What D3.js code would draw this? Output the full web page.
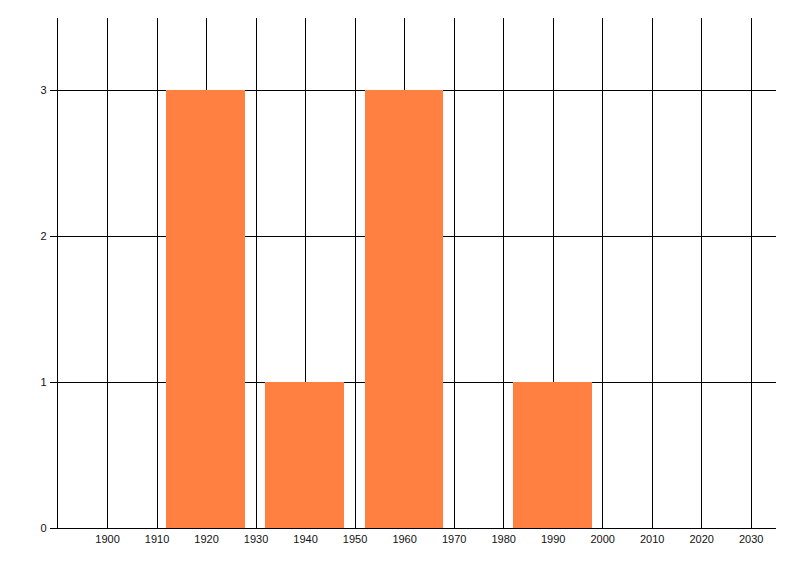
<!DOCTYPE html>
<html><head><meta charset="utf-8">
<script src="https://cdn.jsdelivr.net/npm/d3@7"></script>
<style>body{margin:0;background:#fff}svg{display:block}</style>
</head><body>
<script>
const years = [1920, 1940, 1960, 1990];
const counts = [3, 1, 3, 1];
const binWidth = 16;
const xTicks = [1900,1910,1920,1930,1940,1950,1960,1970,1980,1990,2000,2010,2020,2030];
const yTicks = [0,1,2,3];

const W = 800, H = 576;
const svg = d3.select("body").append("svg").attr("width", W).attr("height", H);
const x = d3.scaleLinear().domain([1890, 2035]).range([57.5, 775.5]);
const y = d3.scaleLinear().domain([0, 3.5]).range([528.5, 17.5]);
const font = "'Liberation Sans', Arial, sans-serif";
const py = v => Math.floor(y(v));

// vertical grid
svg.append("g").selectAll("line").data(xTicks).join("line")
  .attr("x1", d => Math.round(x(d)) + 0.5).attr("x2", d => Math.round(x(d)) + 0.5)
  .attr("y1", y(3.5)).attr("y2", py(0))
  .attr("stroke", "#000").attr("stroke-width", 1).attr("shape-rendering", "crispEdges");
// horizontal grid
svg.append("g").selectAll("line").data(yTicks.filter(d => d > 0)).join("line")
  .attr("x1", x(1890)).attr("x2", x(2035))
  .attr("y1", d => py(d) + 0.5).attr("y2", d => py(d) + 0.5)
  .attr("stroke", "#000").attr("shape-rendering", "crispEdges");

// bars
svg.append("g").selectAll("rect").data(years.map((yr, i) => ({yr, c: counts[i]}))).join("rect")
  .attr("x", d => Math.round(x(d.yr - binWidth / 2)))
  .attr("width", d => Math.floor(x(d.yr + binWidth / 2)) - Math.round(x(d.yr - binWidth / 2)))
  .attr("y", d => py(d.c)).attr("height", d => py(0) - py(d.c))
  .attr("fill", "#FF8040").attr("shape-rendering", "crispEdges");

// axes
const xAxis = d3.axisBottom(x).tickValues(xTicks).tickSize(0).tickPadding(7).tickFormat(d3.format("d"));
const gx = svg.append("g").attr("transform", `translate(0,${py(0)})`).call(xAxis);
gx.select(".domain").attr("stroke", "#000").attr("shape-rendering", "crispEdges");
gx.selectAll("text").attr("font-family", font).attr("font-size", 11).attr("fill", "#111");

const yAxis = d3.axisLeft(y).tickValues(yTicks).tickSize(8).tickPadding(3).tickFormat(d3.format("d"));
const gy = svg.append("g").attr("transform", `translate(${x(1890)},0)`).call(yAxis);
gy.select(".domain").attr("stroke", "#000").attr("shape-rendering", "crispEdges").attr("d", `M0,${y(3.5)}V${py(0) + 0.5}`);
gy.selectAll(".tick").attr("transform", d => `translate(0,${py(d) + 0.5})`);
gy.selectAll(".tick line").attr("stroke", "#000").attr("shape-rendering", "crispEdges");
gy.selectAll("text").attr("font-family", font).attr("font-size", 11).attr("fill", "#111");
</script>
</body></html>
